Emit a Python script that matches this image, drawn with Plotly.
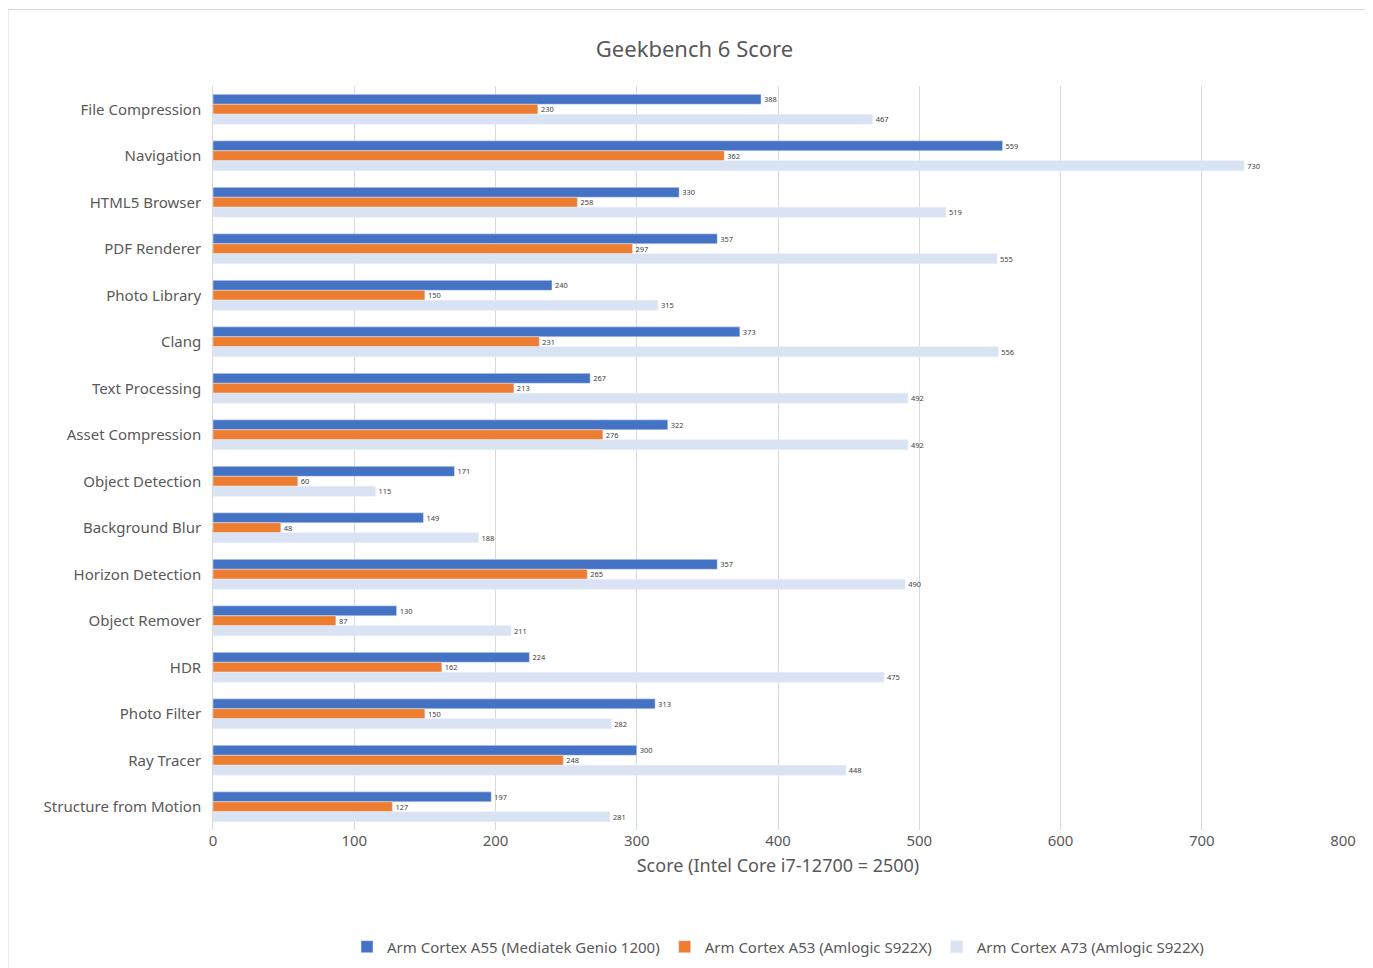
import plotly.graph_objects as go

categories = ["File Compression", "Navigation", "HTML5 Browser", "PDF Renderer", "Photo Library",
              "Clang", "Text Processing", "Asset Compression", "Object Detection", "Background Blur",
              "Horizon Detection", "Object Remover", "HDR", "Photo Filter", "Ray Tracer",
              "Structure from Motion"]
a55 = [388, 559, 330, 357, 240, 373, 267, 322, 171, 149, 357, 130, 224, 313, 300, 197]
a53 = [230, 362, 258, 297, 150, 231, 213, 276, 60, 48, 265, 87, 162, 150, 248, 127]
a73 = [467, 730, 519, 555, 315, 556, 492, 492, 115, 188, 490, 211, 475, 282, 448, 281]

series = [
    ("Arm Cortex A55 (Mediatek Genio 1200)", a55, "#4472C4"),
    ("Arm Cortex A53 (Amlogic S922X)", a53, "#ED7D31"),
    ("Arm Cortex A73 (Amlogic S922X)", a73, "#DAE3F3"),
]

font = "Noto Sans, Liberation Sans, sans-serif"
fig = go.Figure()
for name, vals, color in series:
    fig.add_trace(go.Bar(y=categories, x=vals, name=name, orientation="h",
                         marker_color=color, text=vals, textposition="outside",
                         textfont=dict(size=15, color="#404040"), cliponaxis=False))

fig.update_layout(
    title=dict(text="Geekbench 6 Score", x=0.5, y=0.965, font=dict(size=22, color="#595959")),
    barmode="group", bargap=0.36, bargroupgap=0,
    width=1373, height=968, margin=dict(l=205, r=38, t=78, b=141),
    paper_bgcolor="white", plot_bgcolor="white",
    font=dict(family=font, size=15, color="#595959"),
    legend=dict(orientation="h", x=0.5, xanchor="center", y=-0.135, yanchor="top",
                font=dict(size=15), itemwidth=30),
    xaxis=dict(range=[0, 800], dtick=100, showgrid=True, gridcolor="#D9D9D9",
               zeroline=False, title=dict(text="Score (Intel Core i7-12700 = 2500)", standoff=10),
               ticks="", tickfont=dict(size=15)),
    yaxis=dict(autorange="reversed", showline=True, linecolor="#D9D9D9", ticks="",
               ticksuffix="  ", tickfont=dict(size=15)),
    shapes=[dict(type="rect", xref="paper", yref="paper", x0=-205/1130, x1=1+37/1130,
                 y0=-140/749, y1=1+77/749, line=dict(color="#D9D9D9", width=1))],
    uniformtext=dict(mode=False),
)
fig.write_html("out.html")
